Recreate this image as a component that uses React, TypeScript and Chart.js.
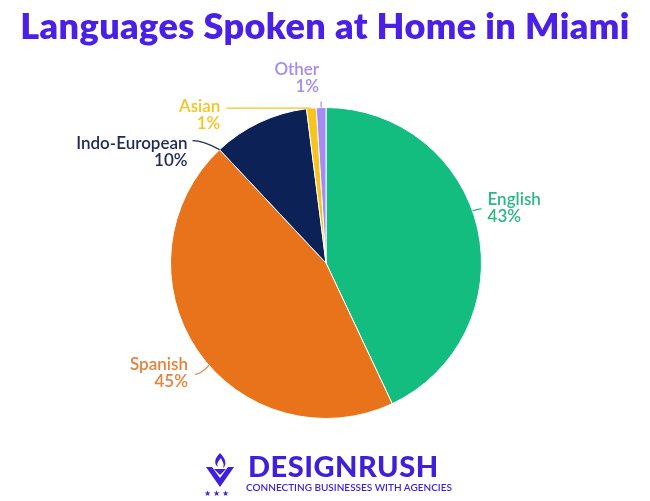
import React, { useEffect, useRef } from "react";
import { Chart, registerables } from "chart.js";

Chart.register(...registerables);

const categories = ["English", "Spanish", "Indo-European", "Asian", "Other"];
const shares = [43, 45, 10, 1, 1];
const sliceColors = ["#12bd7f", "#e9731a", "#0c2257", "#f7c41d", "#a68bf2"];
const labelColors = ["#2cb784", "#e2843c", "#1b2a57", "#f5c423", "#a68bf0"];

// label layout (style only): anchor fraction within slice, leader vector, text offset, align
const labelLayout = [
  { frac: 0.455, lx: 9, ly: -2, tx: 15, ty: -11, align: "left" },
  { frac: 0.457, lx: -14, ly: 9, tx: -21, ty: -1, align: "right" },
  { frac: 0.0, lx: -27, ly: -9, tx: -32, ty: -6, align: "right" },
  { frac: 0.5, lx: -85, ly: 0, tx: -91, ty: -2, align: "right" },
  { frac: 0.5, lx: 0, ly: -6, tx: -2, ty: -38, align: "right" },
];

const labelPlugin = {
  id: "leaderLabels",
  afterDatasetsDraw(chart: any) {
    const ctx = chart.ctx;
    const meta = chart.getDatasetMeta(0);
    meta.data.forEach((arc: any, i: number) => {
      const p = arc.getProps(["x", "y", "startAngle", "endAngle", "outerRadius"], true);
      const L = labelLayout[i];
      const a = p.startAngle + L.frac * (p.endAngle - p.startAngle);
      const ax = p.x + Math.cos(a) * p.outerRadius;
      const ay = p.y + Math.sin(a) * p.outerRadius;
      const ex = ax + L.lx;
      const ey = ay + L.ly;
      ctx.save();
      ctx.strokeStyle = labelColors[i];
      ctx.lineWidth = 1.2;
      ctx.beginPath();
      ctx.moveTo(ax, ay);
      ctx.quadraticCurveTo(ax + L.lx * 0.6, ey, ex, ey);
      ctx.stroke();
      ctx.fillStyle = labelColors[i];
      ctx.font = "600 17px Lato";
      ctx.textAlign = L.align;
      ctx.textBaseline = "middle";
      const tx = ax + L.tx;
      const ty = ay + L.ty;
      ctx.fillText(categories[i], tx, ty);
      ctx.fillText(shares[i] + "%", tx, ty + 17);
      ctx.restore();
    });
  },
};

export default function App() {
  const ref = useRef<HTMLCanvasElement>(null);
  useEffect(() => {
    document.body.style.margin = "0";
    const chart = new Chart(ref.current!, {
      type: "pie",
      data: {
        labels: categories,
        datasets: [
          {
            data: shares,
            backgroundColor: sliceColors,
            borderColor: "#ffffff",
            borderWidth: 1,
          },
        ],
      },
      options: {
        animation: false,
        responsive: false,
        layout: { padding: { top: 106, bottom: 81, left: 170, right: 168 } },
        plugins: { legend: { display: false }, tooltip: { enabled: false } },
      },
      plugins: [labelPlugin],
    });
    return () => chart.destroy();
  }, []);

  return (
    <div style={{ position: "absolute", left: 0, top: 0, width: 650, height: 501, background: "#fff", overflow: "hidden" }}>
      <canvas ref={ref} width={650} height={501} style={{ position: "absolute", left: 0, top: 0 }} />
      <div
        style={{
          position: "absolute",
          top: 3,
          left: 0,
          width: 650,
          textAlign: "center",
          fontFamily: "Lato",
          fontWeight: 800,
          fontSize: 36,
          color: "#4a1fe6",
          letterSpacing: 0.4,
          whiteSpace: "nowrap",
        }}
      >
        Languages Spoken at Home in Miami
      </div>
      <div style={{ position: "absolute", left: 200, top: 450, width: 260, height: 50 }}>
        <svg width={36} height={46} viewBox="0 0 36 46" style={{ position: "absolute", left: 2, top: 1 }}>
          <path d="M18 2 C12 8 12 13 16 16 C14 12 17 10 19 7 C20 11 23 12 21 17 C25 14 24 8 18 2 Z" fill="#3f1fdc" />
          <path d="M4 16 L18 36 L32 16 L26 16 L18 27 L10 16 Z" fill="#3f1fdc" />
          <path d="M12 18 L18 24 L24 18 Z" fill="#3f1fdc" />
          <text x="2" y="45" fontSize="8" fill="#3f1fdc">★ ★ ★</text>
        </svg>
        <div
          style={{
            position: "absolute",
            left: 48,
            top: 1,
            fontFamily: "Lato",
            fontWeight: 900,
            fontSize: 29,
            lineHeight: "30px",
            color: "#3f1fdc",
            letterSpacing: 0.5,
          }}
        >
          DESIGNRUSH
        </div>
        <div
          style={{
            position: "absolute",
            left: 46,
            top: 31,
            fontFamily: "Lato",
            fontWeight: 600,
            fontSize: 10,
            lineHeight: "12px",
            color: "#3f1fdc",
            whiteSpace: "nowrap",
          }}
        >
          CONNECTING BUSINESSES WITH AGENCIES
        </div>
      </div>
    </div>
  );
}
